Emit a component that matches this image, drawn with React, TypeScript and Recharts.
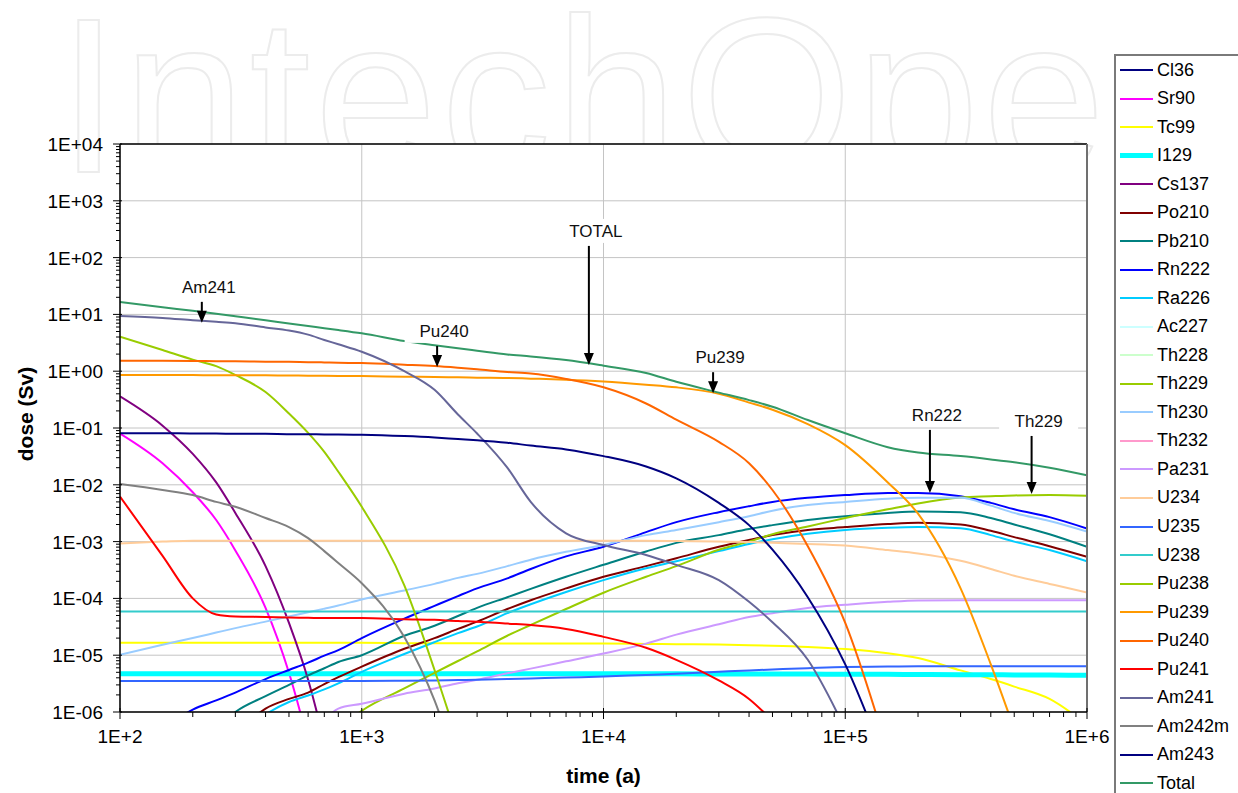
import React from "react";
import { LineChart, Line, XAxis, YAxis, CartesianGrid, ReferenceLine, ReferenceDot } from "recharts";

const FONT = "'Liberation Sans', Arial, Helvetica, sans-serif";
const n = null;

// time (a)
const TIME = [100, 150, 200, 250, 300, 400, 500, 600, 700, 800, 1000, 1500, 2000, 2500, 3000, 4000, 5000, 7000,
  1e4, 1.5e4, 2e4, 3e4, 4e4, 5e4, 7e4, 1e5, 1.5e5, 2e5, 3e5, 4e5, 5e5, 7e5, 1e6];

// dose (Sv), one value per TIME entry, missing entries are off the chart
const CL36: (number | null)[] = [];
const SR90 = [0.08, 0.024, 0.0074, 0.0024, 7e-4, 6.8e-5, 4.9e-6, 3e-7];
const TC99 = [1.65e-5, 1.65e-5, 1.65e-5, 1.65e-5, 1.65e-5, 1.65e-5, 1.65e-5, 1.65e-5, 1.65e-5, 1.65e-5, 1.65e-5,
  1.63e-5, 1.62e-5, 1.62e-5, 1.62e-5, 1.61e-5, 1.61e-5, 1.6e-5, 1.6e-5, 1.58e-5, 1.56e-5, 1.54e-5, 1.5e-5, 1.47e-5,
  1.4e-5, 1.28e-5, 1.08e-5, 8.9e-6, 5.4e-6, 3.8e-6, 2.8e-6, 1.7e-6, 6e-7];
const I129 = [4.7e-6, 4.7e-6, 4.7e-6, 4.7e-6, 4.7e-6, 4.7e-6, 4.7e-6, 4.7e-6, 4.7e-6, 4.7e-6, 4.7e-6, 4.7e-6,
  4.7e-6, 4.7e-6, 4.7e-6, 4.7e-6, 4.7e-6, 4.7e-6, 4.7e-6, 4.7e-6, 4.7e-6, 4.68e-6, 4.67e-6, 4.66e-6, 4.65e-6,
  4.63e-6, 4.6e-6, 4.58e-6, 4.55e-6, 4.52e-6, 4.5e-6, 4.47e-6, 4.45e-6];
const CS137 = [0.36, 0.11, 0.035, 0.011, 0.0032, 3.7e-4, 3.7e-5, 3.7e-6, 3e-7];
const PO210 = [n, n, n, n, 4e-7, 1.15e-6, 1.7e-6, 2.2e-6, 3.1e-6, 4.1e-6, 6.3e-6, 1.3e-5, 2.0e-5, 2.9e-5, 3.9e-5,
  6.5e-5, 9.3e-5, 1.5e-4, 2.4e-4, 3.7e-4, 5.1e-4, 8.1e-4, 1.07e-3, 1.3e-3, 1.6e-3, 1.8e-3, 2.04e-3, 2.15e-3,
  2.0e-3, 1.55e-3, 1.2e-3, 8.3e-4, 5.4e-4];
const PB210 = [n, n, n, 5e-7, 1.0e-6, 1.9e-6, 3.0e-6, 4.4e-6, 5.9e-6, 7.6e-6, 1.0e-5, 2.2e-5, 3.3e-5, 4.9e-5,
  6.8e-5, 1.05e-4, 1.47e-4, 2.4e-4, 3.9e-4, 6.7e-4, 9.5e-4, 1.3e-3, 1.67e-3, 1.95e-3, 2.4e-3, 2.8e-3, 3.2e-3,
  3.4e-3, 3.3e-3, 2.6e-3, 2.0e-3, 1.35e-3, 8.1e-4];
const RN222 = [n, 5e-7, 1.1e-6, 1.6e-6, 2.2e-6, 3.8e-6, 5.5e-6, 7.4e-6, 9.8e-6, 1.23e-5, 2.0e-5, 4.4e-5, 7.4e-5,
  1.1e-4, 1.5e-4, 2.25e-4, 3.3e-4, 5.5e-4, 8.1e-4, 1.47e-3, 2.2e-3, 3.3e-3, 4.2e-3, 5.0e-3, 5.9e-3, 6.6e-3,
  7.2e-3, 7.2e-3, 6.3e-3, 4.8e-3, 3.7e-3, 2.7e-3, 1.7e-3];
const RA226 = [n, n, n, n, 3e-7, 9e-7, 1.5e-6, 1.95e-6, 2.5e-6, 3.2e-6, 5.1e-6, 1.05e-5, 1.7e-5, 2.45e-5, 3.2e-5,
  5.5e-5, 7.9e-5, 1.3e-4, 2.1e-4, 3.4e-4, 4.5e-4, 6.8e-4, 9.1e-4, 1.1e-3, 1.37e-3, 1.6e-3, 1.75e-3, 1.8e-3,
  1.72e-3, 1.3e-3, 1.0e-3, 7.1e-4, 4.5e-4];
const AC227: (number | null)[] = [];
const TH228: (number | null)[] = [];
const TH229 = [n, n, n, n, n, n, n, n, n, 5e-7, 1.05e-6, 2.6e-6, 4.9e-6, 7.9e-6, 1.17e-5, 2.2e-5, 3.4e-5, 6.5e-5,
  1.26e-4, 2.4e-4, 3.7e-4, 7.2e-4, 1.0e-3, 1.35e-3, 1.85e-3, 2.6e-3, 3.7e-3, 4.7e-3, 6.0e-3, 6.3e-3, 6.5e-3,
  6.6e-3, 6.4e-3];
const TH230 = [1.02e-5, 1.53e-5, 2.0e-5, 2.5e-5, 3.0e-5, 3.9e-5, 4.8e-5, 5.7e-5, 6.6e-5, 7.5e-5, 9.6e-5, 1.38e-4,
  1.8e-4, 2.3e-4, 2.7e-4, 3.7e-4, 4.8e-4, 6.6e-4, 8.7e-4, 1.3e-3, 1.6e-3, 2.2e-3, 2.8e-3, 3.5e-3, 4.4e-3, 5.0e-3,
  5.7e-3, 5.9e-3, 5.9e-3, 4.3e-3, 3.2e-3, 2.3e-3, 1.5e-3];
const TH232: (number | null)[] = [];
const PA231 = [n, n, n, n, n, n, n, n, 7e-7, 1.15e-6, 1.4e-6, 2.1e-6, 2.6e-6, 3.2e-6, 3.7e-6, 4.8e-6, 5.8e-6, 7.8e-6,
  1.07e-5, 1.6e-5, 2.3e-5, 3.5e-5, 4.7e-5, 5.5e-5, 6.8e-5, 7.7e-5, 8.7e-5, 9.2e-5, 9.3e-5, 9.3e-5, 9.3e-5,
  9.3e-5, 9.3e-5];
const U234 = [9.3e-4, 1.0e-3, 1.04e-3, 1.04e-3, 1.04e-3, 1.04e-3, 1.04e-3, 1.04e-3, 1.04e-3, 1.04e-3, 1.04e-3,
  1.04e-3, 1.04e-3, 1.04e-3, 1.04e-3, 1.04e-3, 1.04e-3, 1.04e-3, 1.03e-3, 1.03e-3, 1.02e-3, 1.0e-3, 9.8e-4,
  9.5e-4, 9.1e-4, 8.5e-4, 7.1e-4, 6.2e-4, 4.6e-4, 3.3e-4, 2.5e-4, 1.8e-4, 1.27e-4];
const U235 = [3.5e-6, 3.5e-6, 3.5e-6, 3.5e-6, 3.5e-6, 3.5e-6, 3.5e-6, 3.5e-6, 3.5e-6, 3.5e-6, 3.5e-6, 3.55e-6,
  3.6e-6, 3.65e-6, 3.7e-6, 3.8e-6, 3.9e-6, 4.05e-6, 4.2e-6, 4.5e-6, 4.7e-6, 5.1e-6, 5.4e-6, 5.6e-6, 5.9e-6,
  6.2e-6, 6.3e-6, 6.4e-6, 6.4e-6, 6.4e-6, 6.4e-6, 6.4e-6, 6.4e-6];
const U238 = [5.9e-5, 5.9e-5, 5.9e-5, 5.9e-5, 5.9e-5, 5.9e-5, 5.9e-5, 5.9e-5, 5.9e-5, 5.9e-5, 5.9e-5, 5.9e-5,
  5.9e-5, 5.9e-5, 5.9e-5, 5.9e-5, 5.9e-5, 5.9e-5, 5.9e-5, 5.9e-5, 5.9e-5, 5.9e-5, 5.9e-5, 5.9e-5, 5.9e-5,
  5.9e-5, 5.9e-5, 5.9e-5, 5.9e-5, 5.9e-5, 5.9e-5, 5.9e-5, 5.9e-5];
const PU238 = [4.05, 2.36, 1.6, 1.23, 0.86, 0.43, 0.18, 0.082, 0.038, 0.017, 0.0041, 1.7e-4, 5.5e-6, 3e-7];
const PU239 = [0.86, 0.86, 0.855, 0.85, 0.85, 0.845, 0.84, 0.835, 0.83, 0.825, 0.82, 0.8, 0.79, 0.78, 0.77, 0.76,
  0.74, 0.71, 0.66, 0.58, 0.52, 0.4, 0.28, 0.21, 0.117, 0.05, 0.011, 0.0031, 1.5e-4, 6.9e-6, 5e-7];
const PU240 = [1.53, 1.52, 1.51, 1.5, 1.49, 1.47, 1.46, 1.44, 1.43, 1.41, 1.39, 1.3, 1.23, 1.15, 1.08, 0.97, 0.91,
  0.73, 0.52, 0.27, 0.14, 0.057, 0.024, 0.0081, 8.3e-4, 3.7e-5, 2e-7];
const PU241 = [0.0062, 5.6e-4, 1.0e-4, 5.2e-5, 4.8e-5, 4.7e-5, 4.6e-5, 4.55e-5, 4.5e-5, 4.5e-5, 4.5e-5, 4.3e-5,
  4.2e-5, 4.0e-5, 3.9e-5, 3.6e-5, 3.4e-5, 2.9e-5, 2.1e-5, 1.35e-5, 8.3e-6, 3.6e-6, 1.7e-6, 7e-7];
const AM241 = [9.4, 8.65, 7.9, 7.4, 7.0, 5.9, 5.2, 4.4, 3.55, 2.98, 2.2, 1.0, 0.47, 0.173, 0.08, 0.02, 0.005,
  0.0014, 8.7e-4, 5.8e-4, 3.9e-4, 2.1e-4, 8.7e-5, 3.8e-5, 8.3e-6, 5e-7];
const AM242M = [0.0103, 0.0081, 0.0066, 0.005, 0.0041, 0.0026, 0.0018, 0.00115, 6.8e-4, 4.2e-4, 1.85e-4, 2.1e-5,
  1.6e-6, 1e-7];
const AM243 = [0.081, 0.081, 0.08, 0.08, 0.079, 0.079, 0.078, 0.078, 0.077, 0.077, 0.076, 0.072, 0.068, 0.064,
  0.061, 0.055, 0.049, 0.042, 0.032, 0.021, 0.013, 0.0048, 0.00195, 7.2e-4, 1.05e-4, 6.9e-6, 1e-7];
const TOTAL = [16.5, 13.3, 11.6, 10.3, 9.3, 7.9, 6.9, 6.25, 5.7, 5.3, 4.65, 3.4, 2.87, 2.54, 2.3, 1.97, 1.82, 1.57,
  1.25, 0.93, 0.65, 0.42, 0.31, 0.237, 0.138, 0.081, 0.046, 0.037, 0.032, 0.028, 0.025, 0.02, 0.0147];

const SERIES = [
  { key: "Cl36", values: CL36, color: "#000080" },
  { key: "Sr90", values: SR90, color: "#FF00FF" },
  { key: "Tc99", values: TC99, color: "#FFFF00" },
  { key: "I129", values: I129, color: "#00FFFF", width: 5 },
  { key: "Cs137", values: CS137, color: "#800080" },
  { key: "Po210", values: PO210, color: "#800000" },
  { key: "Pb210", values: PB210, color: "#008080" },
  { key: "Rn222", values: RN222, color: "#0000FF" },
  { key: "Ra226", values: RA226, color: "#00CCFF" },
  { key: "Ac227", values: AC227, color: "#CCFFFF" },
  { key: "Th228", values: TH228, color: "#CCFFCC" },
  { key: "Th229", values: TH229, color: "#99CC00" },
  { key: "Th230", values: TH230, color: "#99CCFF" },
  { key: "Th232", values: TH232, color: "#FF99CC" },
  { key: "Pa231", values: PA231, color: "#CC99FF" },
  { key: "U234", values: U234, color: "#FFCC99" },
  { key: "U235", values: U235, color: "#3366FF" },
  { key: "U238", values: U238, color: "#33CCCC" },
  { key: "Pu238", values: PU238, color: "#99CC00" },
  { key: "Pu239", values: PU239, color: "#FF9900" },
  { key: "Pu240", values: PU240, color: "#FF6600" },
  { key: "Pu241", values: PU241, color: "#FF0000" },
  { key: "Am241", values: AM241, color: "#666699" },
  { key: "Am242m", values: AM242M, color: "#808080" },
  { key: "Am243", values: AM243, color: "#000080" },
  { key: "Total", values: TOTAL, color: "#339966" },
];

// arrows pointing at curves: tip at (time, dose)
const ANNOTATIONS = [
  { label: "Am241", time: 218, dose: 7.1 },
  { label: "Pu240", time: 2050, dose: 1.19 },
  { label: "TOTAL", time: 8700, dose: 1.29 },
  { label: "Pu239", time: 28400, dose: 0.41 },
  { label: "Rn222", time: 224000, dose: 7.2e-3 },
  { label: "Th229", time: 590000, dose: 6.9e-3 },
];
const ARROW_LEN: Record<string, number> = { Am241: 21, Pu240: 21, TOTAL: 119, Pu239: 21, Rn222: 63, Th229: 58 };

const X_DECADES = [1e2, 1e3, 1e4, 1e5, 1e6];
const Y_DECADES = [1e-6, 1e-5, 1e-4, 1e-3, 1e-2, 1e-1, 1, 1e1, 1e2, 1e3, 1e4];
const MINOR_STEPS = [2, 3, 4, 5, 6, 7, 8, 9];

const withMinor = (decades: number[]) =>
  decades.flatMap((d, i) => (i < decades.length - 1 ? [d, ...MINOR_STEPS.map((m) => m * d)] : [d]));
const X_TICKS = withMinor(X_DECADES);
const Y_TICKS = withMinor(Y_DECADES);

const isDecade = (v: number) => Math.abs(Math.log10(v) - Math.round(Math.log10(v))) < 1e-6;
const expOf = (v: number) => Math.round(Math.log10(v));
const fmtY = (v: number) => {
  const e = expOf(v);
  return `1E${e < 0 ? "-" : "+"}${String(Math.abs(e)).padStart(2, "0")}`;
};
const fmtX = (v: number) => `1E+${expOf(v)}`;

const rows = TIME.map((t, i) => {
  const row: Record<string, number | null> = { t };
  SERIES.forEach((s) => {
    row[s.key] = s.values[i] ?? null;
  });
  return row;
});

function XTick(props: any) {
  const { x, y, payload } = props;
  const major = isDecade(payload.value);
  return (
    <g>
      <line x1={x} x2={x} y1={major ? y - 4 : y} y2={y + (major ? 7 : 5)} stroke="#000" strokeWidth={1} />
      {major && (
        <text x={x} y={y + 31} textAnchor="middle" fontSize={19} fontFamily={FONT} fill="#000">
          {fmtX(payload.value)}
        </text>
      )}
    </g>
  );
}

function YTick(props: any) {
  const { x, y, payload } = props;
  const major = isDecade(payload.value);
  return (
    <g>
      <line x1={major ? x - 7 : x - 4} x2={major ? x + 2 : x} y1={y} y2={y} stroke="#000" strokeWidth={1} />
      {major && (
        <text x={x - 17} y={y + 7} textAnchor="end" fontSize={19} fontFamily={FONT} fill="#000">
          {fmtY(payload.value)}
        </text>
      )}
    </g>
  );
}

function Callout({ cx, cy, label }: { cx: number; cy: number; label: string }) {
  const top = cy - ARROW_LEN[label];
  const tx = cx + 7;
  const w = label.length * 10.2 + 28;
  return (
    <g>
      <rect x={tx - w / 2} y={top - 27} width={w} height={24} fill="#fff" />
      <text x={tx} y={top - 9} textAnchor="middle" fontSize={17} fontFamily={FONT} fill="#111">
        {label}
      </text>
      <line x1={cx} x2={cx} y1={top} y2={cy - 10} stroke="#000" strokeWidth={2} />
      <polygon points={`${cx - 5},${cy - 12} ${cx + 5},${cy - 12} ${cx},${cy}`} fill="#000" />
    </g>
  );
}

function LegendBox() {
  return (
    <div
      style={{
        position: "absolute",
        left: 1114,
        top: 54,
        width: 140,
        height: 760,
        border: "2px solid #7a7a7a",
        background: "#fff",
        boxSizing: "border-box",
      }}
    >
      {SERIES.map((s) => (
        <div key={s.key} style={{ height: 28.52, display: "flex", alignItems: "center" }}>
          <span
            style={{ display: "inline-block", marginLeft: 4, width: 33, height: s.width ?? 2, background: s.color }}
          />
          <span style={{ marginLeft: 4, fontSize: 18, fontFamily: FONT, color: "#000" }}>{s.key}</span>
        </div>
      ))}
    </div>
  );
}

export default function App() {
  return (
    <div
      style={{
        position: "absolute",
        left: 0,
        top: 0,
        width: 1238,
        height: 793,
        overflow: "hidden",
        background: "#fff",
      }}
    >
      <svg width={1112} height={200} style={{ position: "absolute", left: 0, top: 0 }}>
        <text
          x={58}
          y={172}
          fontSize={220}
          fontFamily={FONT}
          fill="none"
          stroke="#ececec"
          strokeWidth={2}
          letterSpacing={4}
        >
          IntechOpe
        </text>
      </svg>
      <div style={{ position: "absolute", left: 0, top: 0 }}>
        <LineChart width={1112} height={793} data={rows} margin={{ top: 144, right: 25, bottom: 0, left: 0 }}>
          <CartesianGrid
            stroke="#c4c4c4"
            fill="#fff"
            horizontalValues={Y_DECADES}
            verticalValues={X_DECADES}
          />
          <XAxis
            dataKey="t"
            type="number"
            scale="log"
            domain={[100, 1e6]}
            allowDataOverflow
            ticks={X_TICKS}
            interval={0}
            tickLine={false}
            tickSize={0}
            tickMargin={0}
            height={81}
            axisLine={{ stroke: "#000", strokeWidth: 1.5 }}
            tick={(p: any) => <XTick {...p} />}
            label={{
              content: (p: any) => {
                const vb = p.viewBox;
                return (
                  <text
                    x={vb.x + vb.width / 2}
                    y={vb.y + 71}
                    textAnchor="middle"
                    fontSize={21}
                    fontWeight="bold"
                    fontFamily={FONT}
                    fill="#000"
                  >
                    time (a)
                  </text>
                );
              },
            }}
          />
          <YAxis
            type="number"
            scale="log"
            domain={[1e-6, 1e4]}
            allowDataOverflow
            ticks={Y_TICKS}
            interval={0}
            tickLine={false}
            tickSize={0}
            tickMargin={0}
            width={120}
            axisLine={{ stroke: "#000", strokeWidth: 1.5 }}
            tick={(p: any) => <YTick {...p} />}
            label={{
              content: (p: any) => {
                const vb = p.viewBox;
                const cy = vb.y + vb.height / 2 - 14;
                return (
                  <text
                    x={33}
                    y={cy}
                    transform={`rotate(-90, 33, ${cy})`}
                    textAnchor="middle"
                    fontSize={21}
                    fontWeight="bold"
                    fontFamily={FONT}
                    fill="#000"
                  >
                    dose (Sv)
                  </text>
                );
              },
            }}
          />
          {SERIES.map((s) => (
            <Line
              key={s.key}
              dataKey={s.key}
              name={s.key}
              type="monotone"
              stroke={s.color}
              strokeWidth={s.width ?? 2}
              dot={false}
              activeDot={false}
              isAnimationActive={false}
            />
          ))}
          <ReferenceLine y={1e4} stroke="#000" strokeWidth={1.5} />
          <ReferenceLine x={1e6} stroke="#707070" strokeWidth={2} />
          {ANNOTATIONS.map((a) => (
            <ReferenceDot
              key={a.label}
              x={a.time}
              y={a.dose}
              r={0}
              ifOverflow="visible"
              shape={(p: any) => <Callout cx={p.cx} cy={p.cy} label={a.label} />}
            />
          ))}
        </LineChart>
      </div>
      <LegendBox />
    </div>
  );
}
